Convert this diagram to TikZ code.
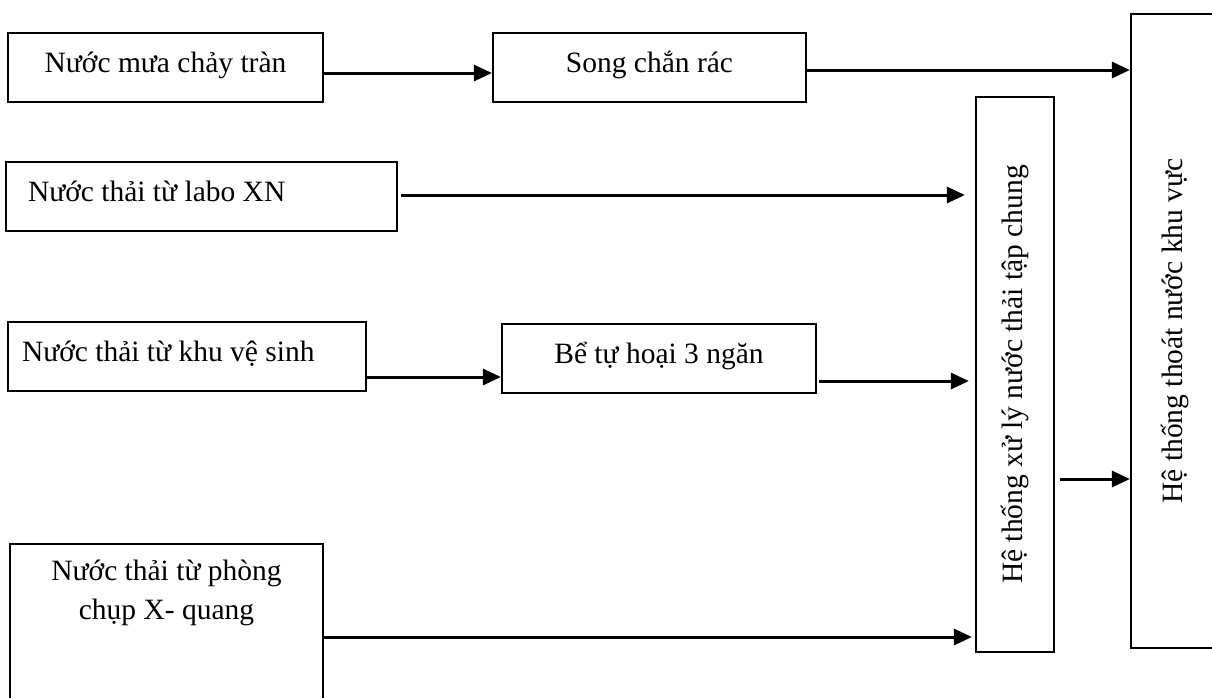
\documentclass[tikz,border=0pt]{standalone}
\usepackage{fontspec}
\setmainfont{Liberation Serif}
\usepackage{graphicx}
\usetikzlibrary{arrows.meta,positioning}
\tikzset{
  box/.style={draw, line width=2.2pt, inner sep=0pt, minimum height=69pt,
    font=\fontsize{29.5}{39}\selectfont, text height=22pt, text depth=12pt},
  tallbox/.style={draw, line width=2.2pt, inner sep=0pt,
    font=\fontsize{29.5}{39}\selectfont},
  arr/.style={line width=3pt, -{Triangle[length=18pt,width=16pt]}},
}

\begin{document}
\begin{tikzpicture}[x=1pt,y=-1pt]
\clip (0,0) rectangle (1212,697);
\node[box, minimum width=315pt] (rain) at (165.5,67.5) {Nước mưa chảy tràn};
\node[box, minimum width=313pt] (screen) at (649.5,67.5) {Song chắn rác};
\node[box, minimum width=391pt, text width=347pt, align=flush left] (labo) at (201.5,196.5) {Nước thải từ labo XN};
\node[box, minimum width=358pt, text width=330pt, align=flush left] (wc) at (187,356.5) {Nước thải từ khu vệ sinh};
\node[box, minimum width=314pt] (tank) at (659,358.5) {Bể tự hoại 3 ngăn};
\node[tallbox, anchor=north, minimum width=313pt, inner ysep=9pt] (xray) at (166.5,543)
  {\parbox[t][190pt][t]{313pt}{\centering\strut Nước thải từ phòng\\ chụp X- quang}};
\node[tallbox, minimum width=78pt, minimum height=555pt] (treat) at (1015,374.5)
  {\rotatebox{90}{Hệ thống xử lý nước thải tập chung}};
\node[tallbox, minimum width=88pt, minimum height=634pt] (drain) at (1175,331)
  {\rotatebox{90}{Hệ thống thoát nước khu vực}};

\draw[arr] ([yshift=-5.5pt]rain.east) -- ([yshift=-5.5pt]rain.east -| screen.west);
\draw[arr] ([yshift=-2.5pt]screen.east) -- ([yshift=-2.5pt]screen.east -| drain.west);
\draw[arr] ([xshift=3pt,yshift=1.5pt]labo.east) -- ([xshift=-10pt,yshift=1.5pt]labo.east -| treat.west);
\draw[arr] ([yshift=-20.5pt]wc.east) -- ([yshift=-20.5pt]wc.east -| tank.west);
\draw[arr] ([xshift=2pt,yshift=-22.5pt]tank.east) -- ([xshift=-6pt,yshift=-22.5pt]tank.east -| treat.west);
\draw[arr] ([yshift=-94pt]xray.north east) -- ([xshift=-3pt,yshift=-94pt]xray.north east -| treat.west);
\draw[arr] ([xshift=5pt,yshift=-104.5pt]treat.east) -- ([yshift=-104.5pt]treat.east -| drain.west);
\end{tikzpicture}
\end{document}
